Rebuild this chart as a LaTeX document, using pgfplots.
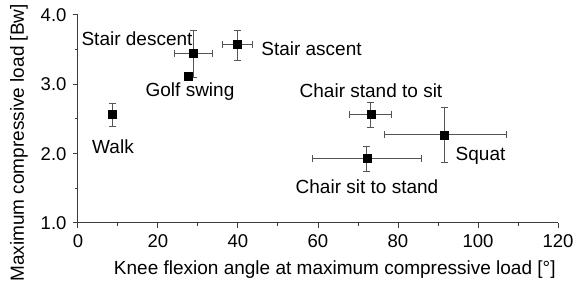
\documentclass[border=0pt]{standalone}
\usepackage{fontspec}
\setmainfont{Liberation Sans}
\usepackage{pgfplots}
\usepackage{pgfplotstable}
\pgfplotsset{compat=1.18}
\pgfplotstableread{
x y xm xp ym yp
28.8 3.45 4.8 4.8 0.35 0.33
39.9 3.58 3.8 3.7 0.23 0.20
73.2 2.57 5.4 5.2 0.19 0.17
91.5 2.27 15.0 15.5 0.39 0.39
72.2 1.93 13.6 13.7 0.19 0.18
}\witherr
\pgfplotstableread{
x y ym yp
8.6 2.57 0.18 0.16
}\walk
\pgfplotstableread{
x y
27.6 3.12
}\golf
\definecolor{axgray}{RGB}{60,60,60}
\definecolor{errgray}{RGB}{85,85,85}
\begin{document}
\fontsize{19}{22}\selectfont
\begin{tikzpicture}
\begin{axis}[
  scale only axis,
  width=480pt, height=208pt,
  xmin=0, xmax=120, ymin=1, ymax=4,
  axis lines=left,
  axis line style={-, axgray, line width=1pt},
  tick align=outside,
  tick style={axgray, line width=1pt},
  major tick length=5pt,
  minor tick length=3pt,
  xtick={0,20,...,120},
  ytick={1,2,3,4},
  minor xtick={10,30,...,110},
  minor ytick={1.5,2.5,3.5},
  /pgf/number format/assume math mode=true,
  yticklabel style={/pgf/number format/.cd, fixed, fixed zerofill, precision=1},
  ticklabel style={font=\fontsize{18.5}{21}\selectfont},
  label style={font=\fontsize{19}{22}\selectfont},
  xlabel={Knee flexion angle at maximum compressive load [°]},
  ylabel={Maximum compressive load [Bw]},
  xlabel style={at={(axis description cs:0.535,0)}, anchor=north, yshift=-31pt},
  ylabel style={at={(ticklabel cs:0.385)}},
  clip=false,
]
\addplot[only marks, mark=square*, mark size=4pt, black,
  error bars/.cd, x dir=both, y dir=both, x explicit, y explicit,
  error bar style={errgray, line width=0.9pt},
  error mark options={rotate=90, errgray, line width=0.9pt, mark size=3.5pt}]
  table[x=x, y=y, x error minus=xm, x error plus=xp, y error minus=ym, y error plus=yp] {\witherr};
\addplot[only marks, mark=square*, mark size=4pt, black,
  error bars/.cd, y dir=both, y explicit,
  error bar style={errgray, line width=0.9pt},
  error mark options={rotate=90, errgray, line width=0.9pt, mark size=3.5pt}]
  table[x=x, y=y, y error minus=ym, y error plus=yp] {\walk};
\addplot[only marks, mark=square*, mark size=4pt, black] table[x=x, y=y] {\golf};
\node at (axis cs:14.75,3.66) {Stair descent};
\node at (axis cs:28,2.89) {Golf swing};
\node[anchor=west] at (axis cs:44.2,3.52) {Stair ascent};
\node at (axis cs:8.75,2.10) {Walk};
\node at (axis cs:73.25,2.91) {Chair stand to sit};
\node[anchor=west] at (axis cs:92.8,1.97) {Squat};
\node at (axis cs:72.25,1.53) {Chair sit to stand};
\end{axis}
\pgfresetboundingbox
\path (current axis.south west) ++(-78pt,-64.7pt) coordinate (bl);
\path (current axis.north east) ++(16pt,15pt) coordinate (tr);
\useasboundingbox (bl) rectangle (tr);
\end{tikzpicture}
\end{document}
